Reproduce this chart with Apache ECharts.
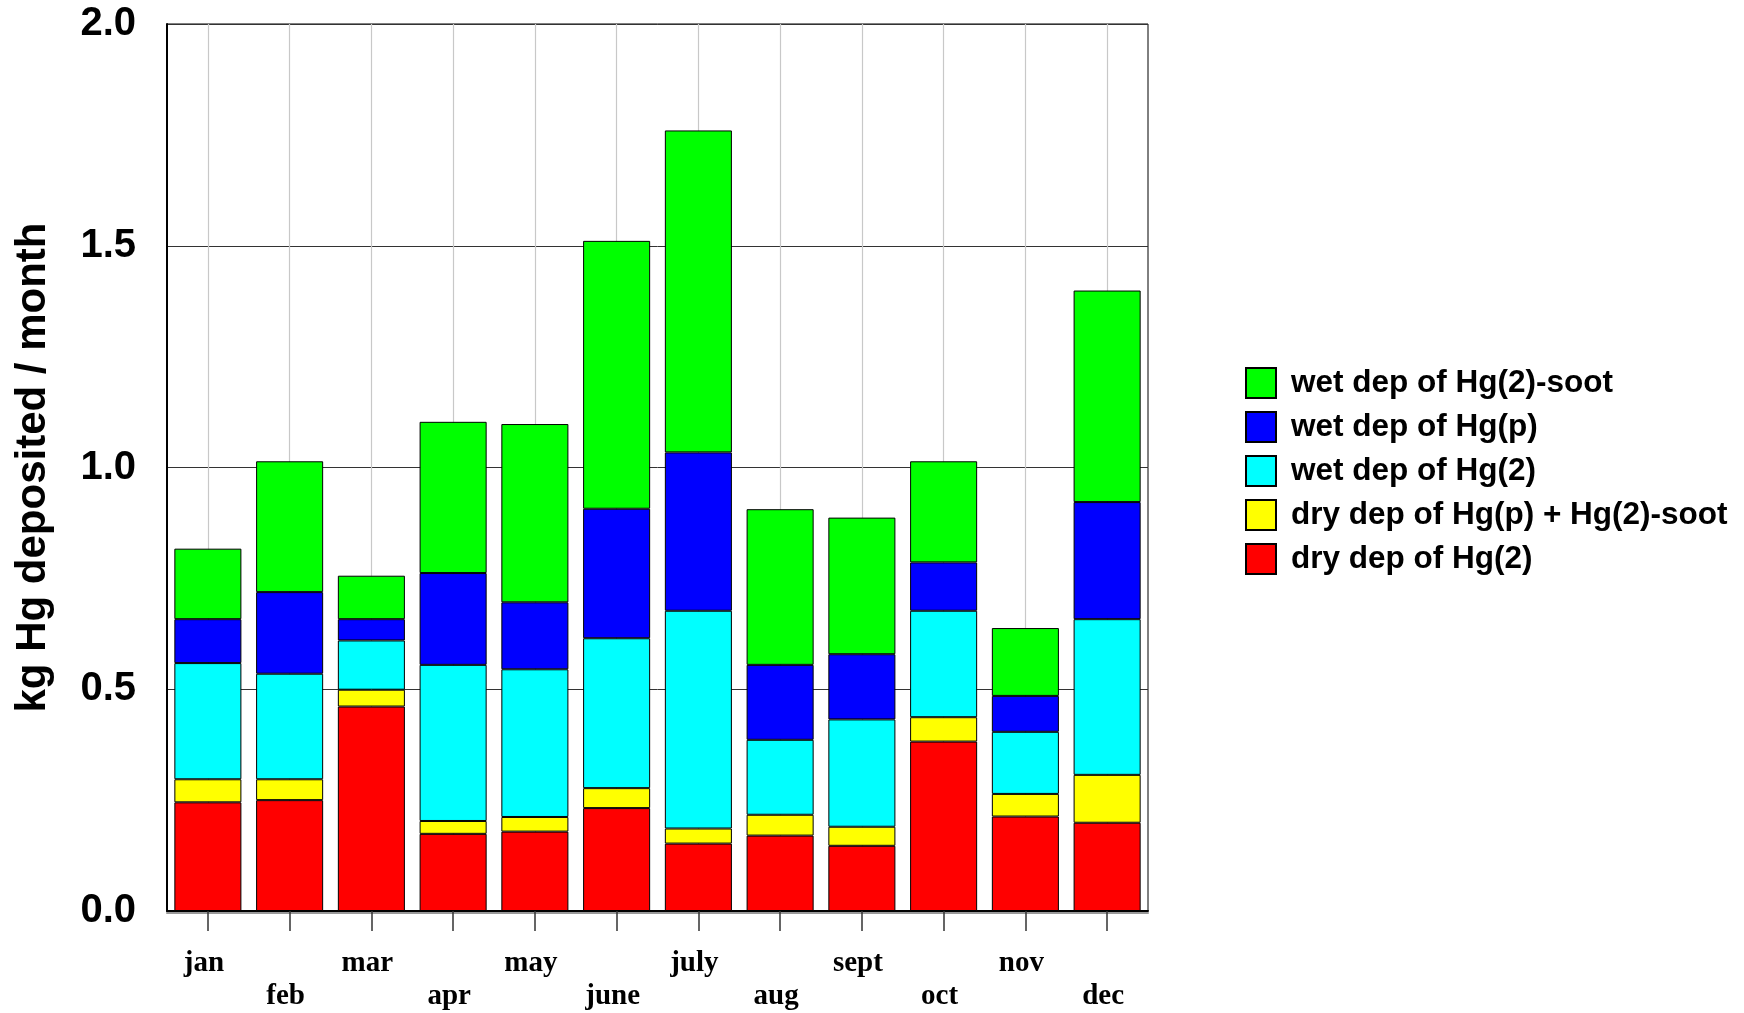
<!DOCTYPE html>
<html>
<head>
<meta charset="utf-8">
<script src="https://cdn.jsdelivr.net/npm/echarts@6/dist/echarts.min.js"></script>
<style>
html,body{margin:0;padding:0;background:#fff;}
#chart{width:1744px;height:1013px;}
</style>
</head>
<body>
<div id="chart"></div>
<script>
const months = ['jan','feb','mar','apr','may','june','july','aug','sept','oct','nov','dec'];
const yTicks = [0.0, 0.5, 1.0, 1.5, 2.0];
const dryHg2     = [0.245, 0.250, 0.461, 0.174, 0.179, 0.232, 0.152, 0.170, 0.147, 0.382, 0.213, 0.199];
const dryHgpSoot = [0.052, 0.047, 0.038, 0.029, 0.033, 0.045, 0.034, 0.047, 0.043, 0.055, 0.051, 0.108];
const wetHg2     = [0.262, 0.238, 0.111, 0.352, 0.333, 0.338, 0.491, 0.169, 0.242, 0.240, 0.140, 0.351];
const wetHgp     = [0.099, 0.184, 0.048, 0.207, 0.151, 0.292, 0.357, 0.169, 0.147, 0.109, 0.081, 0.264];
const wetHg2Soot = [0.159, 0.295, 0.098, 0.341, 0.402, 0.604, 0.726, 0.351, 0.308, 0.228, 0.153, 0.477];

const seriesNames = ['dry dep of Hg(2)', 'dry dep of Hg(p) + Hg(2)-soot', 'wet dep of Hg(2)', 'wet dep of Hg(p)', 'wet dep of Hg(2)-soot'];
const seriesColors = ['#ff0000', '#ffff00', '#00ffff', '#0000ff', '#00ff00'];
const seriesData = [dryHg2, dryHgpSoot, wetHg2, wetHgp, wetHg2Soot];

const chart = echarts.init(document.getElementById('chart'));
const sans = 'Liberation Sans, Arial, sans-serif';
const serif = 'Liberation Serif, Times New Roman, serif';

chart.setOption({
  animation: false,
  backgroundColor: '#fff',
  grid: {left: 167, right: 596, top: 24, bottom: 97, show: true, borderColor: '#000', borderWidth: 1, backgroundColor: 'transparent'},
  legend: {
    orient: 'vertical', left: 1245, top: 367, padding: 0,
    itemWidth: 30, itemHeight: 30, itemGap: 12, icon: 'rect',
    data: seriesNames.slice().reverse(),
    textStyle: {fontFamily: sans, fontWeight: 'bold', fontSize: 31.5, lineHeight: 30, color: '#000', padding: [0, 0, 0, 10]}
  },
  xAxis: {
    type: 'category', data: months,
    axisLine: {show: true, lineStyle: {color: '#000', width: 2, shadowColor: '#999', shadowOffsetY: 2, shadowBlur: 0}},
    axisTick: {show: true, alignWithLabel: true, length: 20, lineStyle: {color: '#333', width: 1.5}},
    splitLine: {show: true, alignWithLabel: true, lineStyle: {color: '#c8c8c8', width: 1.2}},
    axisLabel: {
      interval: 0, margin: 36, color: '#000', fontFamily: serif, fontWeight: 'bold', fontSize: 29, lineHeight: 33,
      padding: [0, 8, 0, 0],
      formatter: (v, i) => (i % 2 ? '\n' + v : v)
    }
  },
  yAxis: {
    type: 'value', min: yTicks[0], max: yTicks[yTicks.length - 1], interval: 0.5,
    name: 'kg Hg deposited / month', nameLocation: 'middle', nameGap: 113,
    nameTextStyle: {fontFamily: sans, fontWeight: 'bold', fontSize: 42, color: '#000'},
    axisLine: {show: true, lineStyle: {color: '#000', width: 2}},
    axisTick: {show: false},
    splitLine: {show: true, lineStyle: {color: '#333', width: 1}},
    axisLabel: {margin: 31, color: '#000', fontFamily: sans, fontWeight: 'bold', fontSize: 40, formatter: v => v.toFixed(1)}
  },
  series: seriesNames.map((n, k) => ({
    name: n, type: 'bar', stack: 'total', barCategoryGap: '18%',
    data: seriesData[k],
    itemStyle: {color: seriesColors[k], borderColor: '#000', borderWidth: 1}
  }))
});
</script>
</body>
</html>
